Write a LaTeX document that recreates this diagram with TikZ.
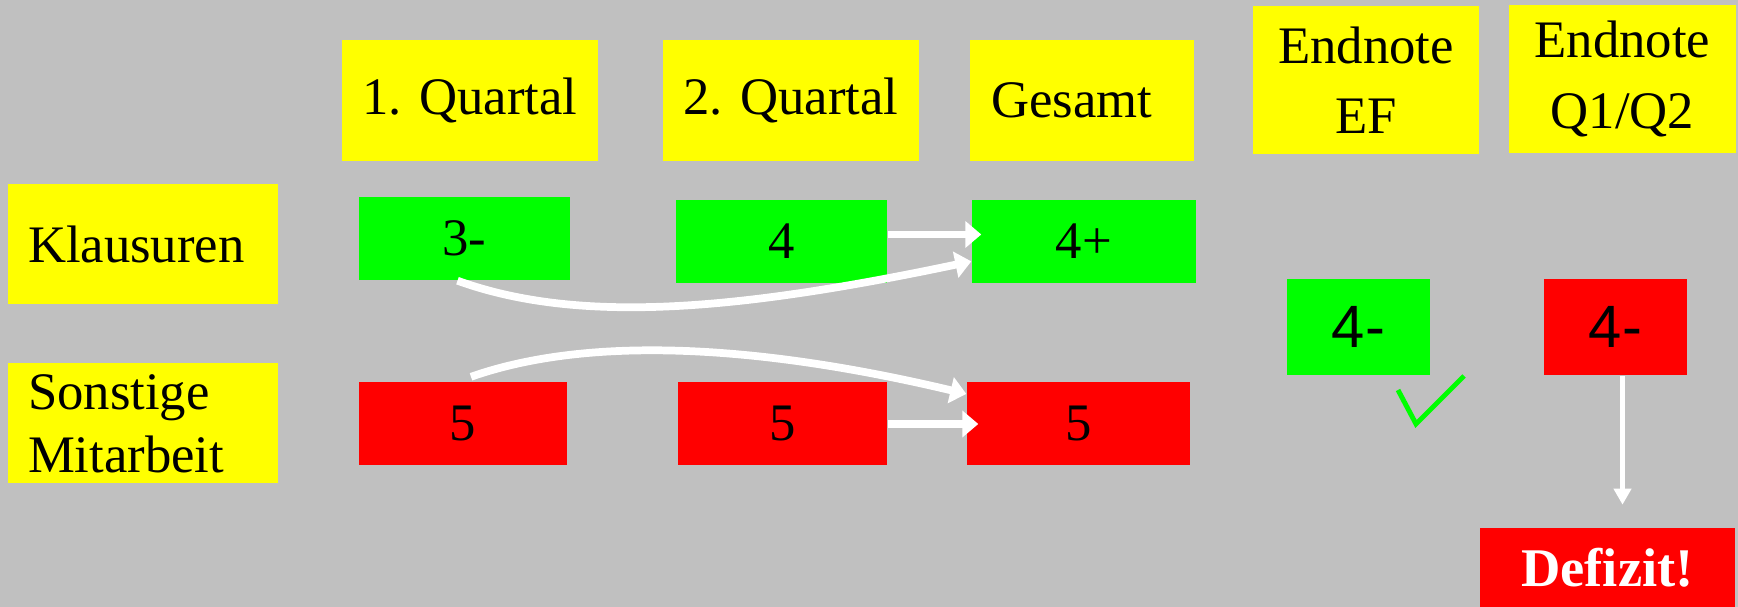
\documentclass[tikz,border=0pt]{standalone}
\usepackage{fontspec}
\setmainfont{Liberation Serif}
\newfontfamily\notensans{Liberation Sans}
\usetikzlibrary{arrows.meta,calc}

\definecolor{grau}{HTML}{C0C0C0}
\definecolor{gelb}{HTML}{FFFF00}
\definecolor{gruen}{HTML}{00FF00}
\definecolor{rot}{HTML}{FF0000}

\begin{document}
\begin{tikzpicture}[y=-1cm,
	kopf/.style={fill=gelb, inner sep=0pt, align=center, font=\fontsize{15}{20}\selectfont},
	zeile/.style={fill=gelb, inner xsep=0.2cm, inner ysep=0pt, text width=2.3cm, align=left, minimum height=1.2cm, font=\fontsize{15}{18}\selectfont},
	note/.style={inner sep=0pt, minimum height=0.83cm, font=\fontsize{15}{18}\selectfont},
	endbox/.style={inner sep=0pt, minimum width=1.43cm, minimum height=0.96cm, font=\notensans\fontsize{17}{20}\selectfont},
	pfeil/.style={white, line width=2.2pt, -{Triangle[length=1.6mm, width=2.6mm]}}]

	\fill[grau] (0,0) rectangle (17.38,6.07);

	\node[kopf, minimum width=2.56cm, minimum height=1.21cm]	(Q1)	at	(4.70,1.005)	{1. Quartal};
	\node[kopf, minimum width=2.56cm, minimum height=1.21cm]	(Q2)	at	(7.91,1.005)	{2. Quartal};
	\node[kopf, minimum width=2.24cm, minimum height=1.21cm]	(G)		at	(10.82,1.005)	{Gesamt\hspace{0.2cm}};
	\node[kopf, minimum width=2.26cm, minimum height=1.48cm]	(EF)	at	(13.66,0.80)	{Endnote\\EF};
	\node[kopf, minimum width=2.27cm, minimum height=1.48cm]	(QQ)	at	(16.225,0.79)	{Endnote\\Q1/Q2};

	\node[zeile]	(K)		at	(1.43,2.44)		{Klausuren};
	\node[zeile]	(S)		at	(1.43,4.235)	{Sonstige\\Mitarbeit};

	\node[note, fill=gruen, minimum width=2.11cm]	(K1)	at	(4.645,2.385)	{3-};
	\node[note, fill=gruen, minimum width=2.11cm]	(K2)	at	(7.815,2.415)	{4};
	\node[note, fill=gruen, minimum width=2.24cm]	(K3)	at	(10.84,2.415)	{4+};
	\node[note, fill=rot, minimum width=2.08cm]		(S1)	at	(4.63,4.24)		{5};
	\node[note, fill=rot, minimum width=2.09cm]		(S2)	at	(7.825,4.24)	{5};
	\node[note, fill=rot, minimum width=2.23cm]		(S3)	at	(10.785,4.24)	{5};

	\node[endbox, fill=gruen]	(E1)	at	(13.585,3.27)	{4-};
	\node[endbox, fill=rot]		(E2)	at	(16.155,3.27)	{4-};
	\node[fill=rot, text=white, inner sep=0pt, minimum width=2.55cm, minimum height=0.79cm,
		font=\bfseries\fontsize{15.5}{18}\selectfont]	(D)	at	(16.075,5.675)	{Defizit!};
	\coordinate	(DA)	at	($(E2.south)+(0.07,0)$);
	\coordinate	(DP)	at	($(DA)+(0,1.29)$);

	\draw[pfeil] ($(K2.east)+(0,-0.07)$) -- ($(K3.west)+(0.1,-0.07)$);
	\draw[pfeil] (S2.east) -- ($(S3.west)+(0.12,0)$);
	\draw[pfeil] ($(K1.south)+(-0.07,0)$) .. controls (5.8,3.25) and (7.4,3.1) .. (K3.190);
	\draw[pfeil] ($(S1.north)+(0.08,-0.05)$) .. controls (5.9,3.35) and (7.6,3.45) .. (S3.165);
	\draw[white, line width=1.5pt, -{Triangle[length=1.6mm, width=1.7mm]}] (DA) -- (DP);

	\draw[gruen, line width=1.4pt] (13.98,3.90) -- (14.16,4.24) -- (14.64,3.76);

\end{tikzpicture}
\end{document}
